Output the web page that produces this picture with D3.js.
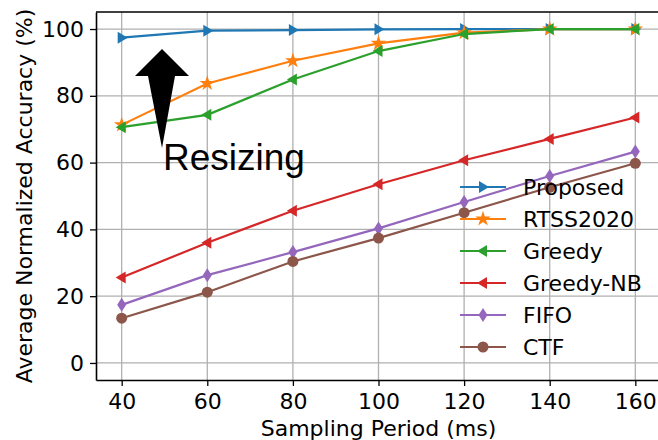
<!DOCTYPE html>
<html>
<head>
<meta charset="utf-8">
<script src="https://cdn.jsdelivr.net/npm/d3@7"></script>
<style>
  body { margin: 0; background: #fff; }
  svg { display: block; font-family: "DejaVu Sans", sans-serif; }
</style>
</head>
<body>
<svg id="chart" width="658" height="440"></svg>
<script>
const periods = [40, 60, 80, 100, 120, 140, 160];
const xTicks = [40, 60, 80, 100, 120, 140, 160];
const yTicks = [0, 20, 40, 60, 80, 100];

const proposed = [97.4, 99.5, 99.7, 99.9, 100, 100, 100];
const rtss2020 = [71.3, 83.7, 90.5, 95.7, 98.9, 100, 100];
const greedy = [70.6, 74.3, 84.9, 93.4, 98.5, 100, 100];
const greedyNB = [25.6, 36.0, 45.6, 53.5, 60.7, 67.1, 73.5];
const fifo = [17.4, 26.3, 33.2, 40.3, 48.2, 56.0, 63.3];
const ctf = [13.4, 21.2, 30.4, 37.4, 45.0, 52.6, 59.8];

const seriesNames = ["Proposed", "RTSS2020", "Greedy", "Greedy-NB", "FIFO", "CTF"];
const seriesValues = [proposed, rtss2020, greedy, greedyNB, fifo, ctf];
const colors = ["#1f77b4", "#ff7f0e", "#2ca02c", "#d62728", "#9467bd", "#8c564b"];
const markers = ["right", "star", "left", "left", "diamond", "circle"];

const svg = d3.select("#chart");
const margin = {left: 96, right: -3, top: 12, bottom: 60};
const W = 658, H = 440;

const x = d3.scaleLinear().domain([34, 166]).range([margin.left, W - margin.right]);
const y = d3.scaleLinear().domain([-5.1, 105.1]).range([H - margin.bottom, margin.top]);

// grid
svg.append("g").selectAll("line").data(xTicks).join("line")
  .attr("x1", d => x(d)).attr("x2", d => x(d))
  .attr("y1", y.range()[0]).attr("y2", y.range()[1])
  .attr("stroke", "#b0b0b0").attr("stroke-width", 1.3);
svg.append("g").selectAll("line").data(yTicks).join("line")
  .attr("y1", d => y(d)).attr("y2", d => y(d))
  .attr("x1", x.range()[0]).attr("x2", x.range()[1])
  .attr("stroke", "#b0b0b0").attr("stroke-width", 1.3);

// axes
const xAxis = svg.append("g")
  .attr("transform", `translate(0,${y.range()[0]})`)
  .call(d3.axisBottom(x).tickValues(xTicks).tickSizeInner(6).tickSizeOuter(0).tickPadding(7));
const yAxis = svg.append("g")
  .attr("transform", `translate(${x.range()[0]},0)`)
  .call(d3.axisLeft(y).tickValues(yTicks).tickSizeInner(6).tickSizeOuter(0).tickPadding(6));
[xAxis, yAxis].forEach(a => {
  a.selectAll("text").attr("font-size", 22).attr("fill", "#000")
    .attr("font-family", "DejaVu Sans, sans-serif");
  a.selectAll("line").attr("stroke", "#000").attr("stroke-width", 1.3);
  a.select(".domain").attr("stroke", "#000").attr("stroke-width", 1.6);
});
svg.append("line")
  .attr("x1", x.range()[0]).attr("x2", x.range()[1])
  .attr("y1", y.range()[1]).attr("y2", y.range()[1])
  .attr("stroke", "#000").attr("stroke-width", 1.6);

// labels
svg.append("text").attr("x", x(100)).attr("y", 436)
  .attr("text-anchor", "middle").attr("font-size", 22)
  .text("Sampling Period (ms)");
svg.append("text")
  .attr("transform", `translate(32,${y(50)}) rotate(-90)`)
  .attr("text-anchor", "middle").attr("font-size", 22)
  .text("Average Normalized Accuracy (%)");

function markerPath(type) {
  if (type === "right") return "M6,0L-4,-6L-4,6Z";
  if (type === "left") return "M-6,0L4,-6L4,6Z";
  if (type === "diamond") return "M0,-7L4.5,0L0,7L-4.5,0Z";
  if (type === "star") return d3.symbol(d3.symbolStar, 75)();
  return d3.symbol(d3.symbolCircle, 95)();
}

const line = d3.line().x((d, i) => x(periods[i])).y(d => y(d));

seriesValues.forEach((vals, k) => {
  const g = svg.append("g");
  g.append("path").datum(vals).attr("d", line)
    .attr("fill", "none").attr("stroke", colors[k]).attr("stroke-width", 2.2);
  g.selectAll("path.m").data(vals).join("path").attr("class", "m")
    .attr("transform", (d, i) => `translate(${x(periods[i])},${y(d)})`)
    .attr("d", markerPath(markers[k]))
    .attr("fill", colors[k]);
});

// legend
const legend = svg.append("g").attr("transform", "translate(460,187)");
seriesNames.forEach((name, k) => {
  const row = legend.append("g").attr("transform", `translate(0,${k * 32})`);
  row.append("line").attr("x1", 0).attr("x2", 46).attr("y1", 0).attr("y2", 0)
    .attr("stroke", colors[k]).attr("stroke-width", 2.2);
  row.append("path").attr("transform", "translate(23,0)")
    .attr("d", markerPath(markers[k])).attr("fill", colors[k]);
  row.append("text").attr("x", 63).attr("y", 8).attr("font-size", 22).text(name);
});

// annotation
svg.append("path")
  .attr("d", "M162,49L189,76L175,76L162,148L148,76L135,76Z")
  .attr("fill", "#000");
svg.append("text").attr("x", 163).attr("y", 170)
  .attr("font-family", "Liberation Sans, sans-serif").attr("font-size", 37)
  .text("Resizing");
</script>
</body>
</html>
